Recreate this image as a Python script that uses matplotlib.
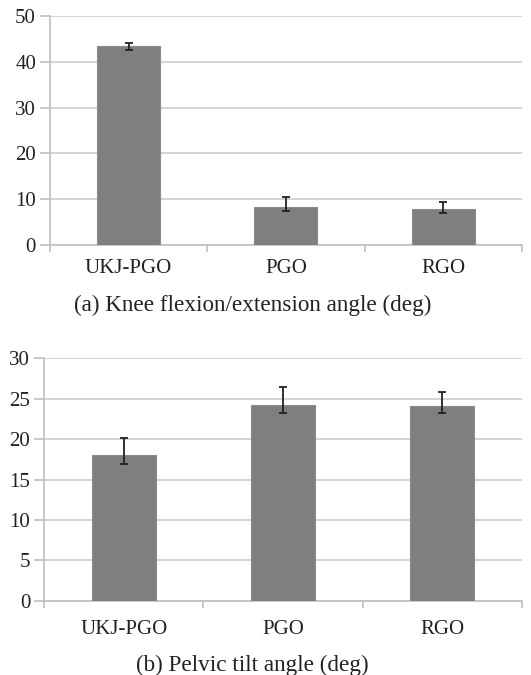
import numpy as np
import matplotlib.pyplot as plt

groups = ["UKJ-PGO", "PGO", "RGO"]

knee_mean = [43.5, 8.2, 7.9]
knee_err_lo = [0.9, 0.8, 1.0]
knee_err_hi = [0.7, 2.2, 1.5]

pelvic_mean = [18.0, 24.2, 24.1]
pelvic_err_lo = [1.1, 0.9, 0.9]
pelvic_err_hi = [2.1, 2.3, 1.7]

plt.rcParams['font.family'] = ['Liberation Serif', 'DejaVu Serif']

fig = plt.figure(figsize=(5.31, 6.75), dpi=100)
ax1 = fig.add_axes([0.094, 0.637, 0.889, 0.339])
ax2 = fig.add_axes([0.083, 0.110, 0.900, 0.359])

bar_col = "#7f7f7f"
grid_col = "#d4d4d4"
axis_col = "#bfbfbf"
cap_x = 0.475  # captions sit a bit left of the figure centre


def draw(ax, means, lo, hi, ymax, step, caption, pad, lpad):
    x = np.arange(len(groups))
    ax.bar(x, means, width=0.4, color=bar_col, edgecolor="#8c8c8c", linewidth=0.8,
           zorder=3)
    ax.errorbar(x, means, yerr=[lo, hi], fmt="none", ecolor="#222222",
                elinewidth=1.3, capsize=3, capthick=1.3, zorder=4)
    ax.set_xlim(-0.5, len(groups) - 0.5)
    ax.set_ylim(0, ymax)
    ax.set_yticks(np.arange(0, ymax + step, step))
    ax.yaxis.grid(True, color=grid_col, linewidth=1.4, zorder=0)
    for s in ["top", "right"]:
        ax.spines[s].set_visible(False)
    for s in ["left", "bottom"]:
        ax.spines[s].set_color(axis_col)
        ax.spines[s].set_linewidth(1.2)
    ax.set_xticks(x)
    ax.set_xticklabels(groups)
    ax.tick_params(axis="x", length=0, pad=pad, labelsize=15, colors="#222222")
    ax.set_xticks(np.arange(-0.5, len(groups), 1.0), minor=True)
    ax.tick_params(axis="x", which="minor", length=5, color=axis_col, width=1.2)
    ax.tick_params(axis="y", length=7, color=axis_col, width=1.2, labelsize=15,
                   pad=3)
    for t in ax.get_yticklabels():
        t.set_color("#222222")
    ax.set_xlabel(caption, fontsize=16.7, labelpad=lpad, color="#222222")
    pos = ax.get_position()
    ax.xaxis.label.set_x((cap_x - pos.x0) / pos.width)


draw(ax1, knee_mean, knee_err_lo, knee_err_hi, 50, 10,
     "(a) Knee flexion/extension angle (deg)", 10, 12)
draw(ax2, pelvic_mean, pelvic_err_lo, pelvic_err_hi, 30, 5,
     "(b) Pelvic tilt angle (deg)", 14, 11)

fig.savefig("out.png", dpi=100)
